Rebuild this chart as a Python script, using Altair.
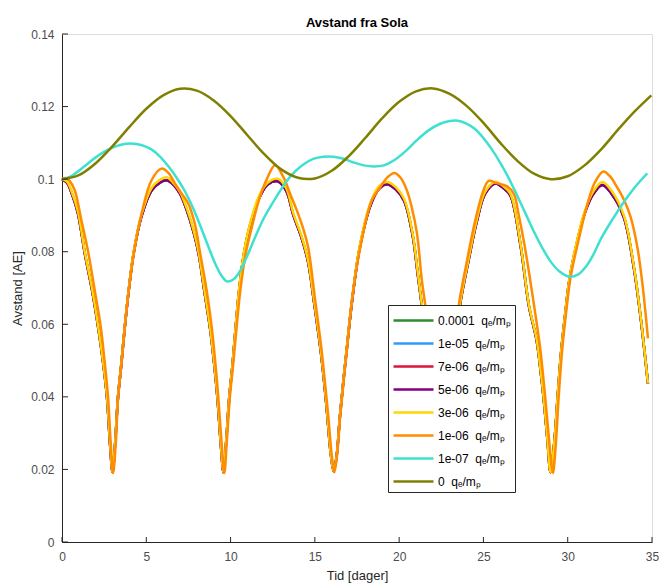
import altair as alt
import pandas as pd

# ---------------- data ----------------
charges = ["0.0001", "1e-05", "7e-06", "5e-06", "3e-06", "1e-06", "1e-07", "0"]
colors = ["#2E8B2E", "#3399FF", "#DC143C", "#800080", "#FFD700", "#FF8C00", "#40E0D0", "#808000"]

# q/m = 0 (olive)
t_olive = [0, 1, 2, 3, 4, 5, 6, 7, 8, 9, 10, 11, 12, 13, 14, 15, 16, 17, 18, 19, 20, 21, 22,
           23, 24, 25, 26, 27, 28, 29, 30, 31, 32, 33, 34, 34.96]
v_olive = [0.1000, 0.1011, 0.1044, 0.1091, 0.1144, 0.1194, 0.1231, 0.1249, 0.1244, 0.1217,
           0.1174, 0.1121, 0.1069, 0.1027, 0.1004, 0.1002, 0.1023, 0.1063, 0.1114, 0.1168,
           0.1213, 0.1242, 0.1250, 0.1235, 0.1202, 0.1155, 0.1100, 0.1051, 0.1015, 0.1000,
           0.1008, 0.1038, 0.1083, 0.1137, 0.1188, 0.1231]

# q/m = 1e-07 (turquoise)
t_cyan = [0.0, 0.5, 1.0, 1.5, 2.0, 2.5, 3.0, 3.5, 4.1, 4.7, 5.3, 5.8, 6.3, 6.8, 7.3, 7.8, 8.3,
          8.7, 9.1, 9.45, 9.8, 10.2, 10.6, 11.0, 11.5, 12.0, 12.7, 13.3, 13.8, 14.4, 14.9, 15.5,
          16.1, 16.7, 17.3, 17.9, 18.5, 19.1, 19.7, 20.4, 21.0, 21.7, 22.4, 23.0, 23.5, 24.0,
          24.5, 25.0, 25.5, 26.0, 26.5, 27.0, 27.5, 28.0, 28.5, 29.0, 29.5, 30.1, 30.6, 31.1,
          31.5, 32.0, 32.6, 33.3, 33.9, 34.3, 34.72]
v_cyan = [0.1000, 0.1007, 0.1023, 0.1042, 0.1060, 0.1075, 0.1087, 0.1095, 0.1098, 0.1094,
          0.1082, 0.1063, 0.1036, 0.1004, 0.0966, 0.0918, 0.0860, 0.0812, 0.0766, 0.0735,
          0.0718, 0.0725, 0.0750, 0.0790, 0.0845, 0.0895, 0.0950, 0.0993, 0.1020, 0.1043,
          0.1056, 0.1062, 0.1062, 0.1056, 0.1046, 0.1038, 0.1035, 0.1038, 0.1052, 0.1078,
          0.1105, 0.1133, 0.1152, 0.1160, 0.1161, 0.1153, 0.1138, 0.1113, 0.1082, 0.1045,
          0.1003, 0.0955, 0.0905, 0.0855, 0.0810, 0.0772, 0.0746, 0.0731, 0.0737, 0.0760,
          0.0790, 0.0838, 0.0885, 0.0935, 0.0973, 0.0995, 0.1016]

# q/m = 1e-06 (orange)
t_orange = [0.0, 0.2, 0.45, 0.75, 1.15, 1.55, 1.94, 2.3, 2.54, 2.73, 2.89, 3.03, 3.19, 3.33,
            3.53, 3.73, 3.96, 4.28, 4.72, 5.31, 5.9, 6.3, 6.7, 7.1, 7.49, 7.88, 8.18, 8.58,
            8.88, 9.1, 9.27, 9.47, 9.63, 9.77, 9.96, 10.16, 10.36, 10.58, 10.9, 11.3, 11.7,
            12.15, 12.64, 13.13, 13.53, 13.93, 14.3, 14.6, 15.02, 15.4, 15.62, 15.8, 16.0,
            16.16, 16.32, 16.5, 16.7, 16.9, 17.2, 17.7, 18.38, 18.88, 19.3, 19.73, 20.1,
            20.46, 20.76, 21.06, 21.35, 21.55, 21.85, 22.1, 22.35, 22.6, 22.85, 23.1, 23.3,
            23.54, 24.03, 24.52, 25.0, 25.31, 25.8, 26.4, 26.8, 27.1, 27.45, 28.0, 28.38,
            28.6, 28.8, 28.98, 29.12, 29.28, 29.45, 29.67, 29.9, 30.17, 30.56, 31.16, 31.6,
            32.11, 32.5, 32.9, 33.35, 33.73, 34.13, 34.43, 34.76]
v_orange = [0.1000, 0.1003, 0.0995, 0.0970, 0.0887, 0.0800, 0.0694, 0.0593, 0.0492, 0.0400,
            0.0272, 0.0190, 0.0272, 0.0400, 0.0492, 0.0593, 0.0694, 0.0800, 0.0905, 0.0997,
            0.1029, 0.1018, 0.0988, 0.0960, 0.0933, 0.0877, 0.0800, 0.0694, 0.0593, 0.0492,
            0.0400, 0.0272, 0.0190, 0.0272, 0.0400, 0.0492, 0.0593, 0.0694, 0.0795, 0.0875,
            0.0945, 0.1000, 0.1038, 0.1006, 0.0960, 0.0914, 0.0865, 0.0813, 0.0666, 0.0529,
            0.0430, 0.0345, 0.0240, 0.0192, 0.0240, 0.0345, 0.0440, 0.0529, 0.0666, 0.0813,
            0.0942, 0.0978, 0.1005, 0.1017, 0.1003, 0.0969, 0.0920, 0.0850, 0.0720, 0.0653,
            0.0530, 0.0420, 0.0300, 0.0192, 0.0300, 0.0420, 0.0540, 0.0653, 0.0776, 0.0887,
            0.0969, 0.0995, 0.0989, 0.0980, 0.0960, 0.0900, 0.0815, 0.0653, 0.0529, 0.0430,
            0.0330, 0.0240, 0.0190, 0.0260, 0.0390, 0.0529, 0.0630, 0.0730, 0.0815, 0.0930,
            0.0990, 0.1021, 0.1008, 0.0980, 0.0942, 0.0896, 0.0813, 0.0712, 0.0561]

# shared time grid of the nearly coincident series (3e-06 ... 0.0001)
t_fam = [0.0, 0.3, 0.6, 0.95, 1.35, 1.8, 2.15, 2.45, 2.67, 2.85, 3.0, 3.15, 3.32, 3.52, 3.72,
         3.95, 4.25, 4.7, 5.3, 5.8, 6.2, 6.6, 7.0, 7.4, 7.8, 8.1, 8.45, 8.78, 9.03, 9.22, 9.42,
         9.58, 9.73, 9.92, 10.12, 10.3, 10.5, 10.8, 11.2, 11.7, 12.2, 12.8, 13.3, 13.73, 14.2,
         14.6, 14.95, 15.35, 15.58, 15.75, 15.95, 16.12, 16.3, 16.48, 16.68, 16.88, 17.2,
         17.65, 18.3, 18.8, 19.27, 19.8, 20.3, 20.8, 21.1, 21.35, 21.7, 22.0, 22.3, 22.55,
         22.8, 23.1, 23.4, 23.6, 24.1, 24.6, 25.1, 25.7, 26.2, 26.6, 27.2, 27.7, 28.15, 28.4,
         28.6, 28.8, 28.98, 29.2, 29.4, 29.6, 29.85, 30.1, 30.5, 31.0, 31.5, 32.05, 32.6,
         33.33, 33.93, 34.33, 34.76]
# q/m = 3e-06 (gold)
v_yellow = [0.1000, 0.0993, 0.0962, 0.0910, 0.0800, 0.0694, 0.0593, 0.0492, 0.0400, 0.0272,
            0.0192, 0.0272, 0.0400, 0.0492, 0.0593, 0.0694, 0.0800, 0.0900, 0.0975, 0.0998,
            0.1005, 0.0990, 0.0965, 0.0920, 0.0860, 0.0800, 0.0694, 0.0593, 0.0492, 0.0400,
            0.0272, 0.0192, 0.0272, 0.0400, 0.0492, 0.0593, 0.0694, 0.0800, 0.0885, 0.0955,
            0.0990, 0.1001, 0.0975, 0.0905, 0.0845, 0.0776, 0.0666, 0.0529, 0.0430, 0.0345,
            0.0240, 0.0194, 0.0240, 0.0345, 0.0440, 0.0529, 0.0666, 0.0813, 0.0935, 0.0980,
            0.0992, 0.0978, 0.0945, 0.0850, 0.0745, 0.0653, 0.0520, 0.0400, 0.0270, 0.0192,
            0.0270, 0.0400, 0.0550, 0.0653, 0.0776, 0.0887, 0.0965, 0.0992, 0.0980, 0.0960,
            0.0822, 0.0653, 0.0560, 0.0470, 0.0385, 0.0280, 0.0192, 0.0272, 0.0400, 0.0520,
            0.0630, 0.0725, 0.0820, 0.0910, 0.0965, 0.0992, 0.0968, 0.0900, 0.0758, 0.0620,
            0.0437]
# q/m = 5e-06 (purple)
v_purple = [0.1000, 0.0990, 0.0958, 0.0905, 0.0796, 0.0690, 0.0590, 0.0490, 0.0398, 0.0270,
            0.0192, 0.0270, 0.0398, 0.0490, 0.0590, 0.0690, 0.0796, 0.0895, 0.0968, 0.0990,
            0.0997, 0.0985, 0.0960, 0.0915, 0.0855, 0.0796, 0.0690, 0.0590, 0.0490, 0.0398,
            0.0270, 0.0192, 0.0270, 0.0398, 0.0490, 0.0590, 0.0690, 0.0796, 0.0880, 0.0948,
            0.0985, 0.0994, 0.0968, 0.0900, 0.0840, 0.0772, 0.0662, 0.0526, 0.0428, 0.0343,
            0.0240, 0.0194, 0.0240, 0.0343, 0.0438, 0.0526, 0.0662, 0.0808, 0.0928, 0.0973,
            0.0986, 0.0972, 0.0940, 0.0845, 0.0740, 0.0650, 0.0518, 0.0398, 0.0270, 0.0192,
            0.0270, 0.0398, 0.0548, 0.0650, 0.0772, 0.0882, 0.0960, 0.0988, 0.0975, 0.0955,
            0.0818, 0.0650, 0.0557, 0.0468, 0.0383, 0.0280, 0.0192, 0.0272, 0.0398, 0.0518,
            0.0627, 0.0722, 0.0815, 0.0905, 0.0958, 0.0984, 0.0960, 0.0895, 0.0754, 0.0617,
            0.0437]
# q/m = 7e-06, 1e-05, 1e-04: drawn underneath, indistinguishable from 5e-06
v_red = list(v_purple)
v_blue = list(v_purple)
v_green = list(v_purple)

x_ticks = [0, 5, 10, 15, 20, 25, 30, 35]
y_ticks = [0, 0.02, 0.04, 0.06, 0.08, 0.1, 0.12, 0.14]

# ---------------- build table ----------------
series_t = [t_fam, t_fam, t_fam, t_fam, t_fam, t_orange, t_cyan, t_olive]
series_v = [v_green, v_blue, v_red, v_purple, v_yellow, v_orange, v_cyan, v_olive]
labels = [c + "\u00a0\u00a0q\u2091/m\u209a" for c in charges]

rows = []
for k, (ts, vs) in enumerate(zip(series_t, series_v)):
    for i, (t, v) in enumerate(zip(ts, vs)):
        rows.append({"k": k, "series": labels[k], "i": i, "t": t, "v": v})
df = pd.DataFrame(rows)

W, H = 590, 508
FONT = "Liberation Sans"
AX = "#262626"
LAB = "#4D4D4D"

x_scale = alt.Scale(domain=[0, 35], nice=False, zero=False)
y_scale = alt.Scale(domain=[0, 0.14], nice=False)
x_axis = alt.Axis(values=x_ticks, title="Tid [dager]", ticks=False, tickSize=0,
                  labelPadding=9, titlePadding=7, grid=False, labelFlush=False,
                  labelFont=FONT, labelFontSize=12, labelColor=LAB,
                  titleFont=FONT, titleFontSize=13, titleFontWeight="normal", titleColor=AX,
                  domainColor=AX, domainWidth=1)
y_axis = alt.Axis(values=y_ticks, title="Avstand [AE]", ticks=False, tickSize=0,
                  labelPadding=8, titlePadding=6, grid=False, format="~g",
                  labelFont=FONT, labelFontSize=12, labelColor=LAB,
                  titleFont=FONT, titleFontSize=13, titleFontWeight="normal", titleColor=AX,
                  domainColor=AX, domainWidth=1)
X = alt.X("t:Q", scale=x_scale, axis=x_axis)
Y = alt.Y("v:Q", scale=y_scale, axis=y_axis)
color = alt.Color(
    "series:N",
    scale=alt.Scale(domain=labels, range=colors),
    legend=alt.Legend(
        title=None, orient="none", legendX=326, legendY=271,
        symbolType="M-1,0H3", symbolSize=400, symbolStrokeWidth=2.5,
        symbolFillColor="transparent",
        labelFontSize=12, labelFont=FONT, labelColor="#000000",
        fillColor="#FFFFFF", strokeColor=AX, padding=4,
        rowPadding=5, labelOffset=23, labelLimit=200,
    ),
)

layers = []
for k in range(len(labels)):
    layers.append(
        alt.Chart(df)
        .transform_filter(alt.datum.k == k)
        .mark_line(strokeWidth=2.5, interpolate="catmull-rom")
        .encode(x=X, y=Y, color=color, order="i:Q")
    )

xt = pd.DataFrame({"t": x_ticks})
yt = pd.DataFrame({"v": y_ticks})
xtick_layer = alt.Chart(xt).mark_rule(color=AX, strokeWidth=1).encode(
    x=X, y=alt.value(H), y2=alt.value(H - 5))
ytick_layer = alt.Chart(yt).mark_rule(color=AX, strokeWidth=1).encode(
    y=Y, x=alt.value(0), x2=alt.value(6))

chart = (
    alt.layer(*layers, xtick_layer, ytick_layer)
    .properties(
        width=W, height=H,
        title=alt.TitleParams("Avstand fra Sola", fontSize=13, fontWeight="bold",
                              font=FONT, color="#000000", offset=8, dy=20,
                              baseline="alphabetic"),
        autosize=alt.AutoSizeParams(type="none"),
        padding={"left": 62, "top": 34, "right": 7, "bottom": 46},
    )
    .configure_view(stroke=None)
    .configure(background="#FFFFFF")
)

chart.save("out.html", embed_options={"renderer": "svg", "actions": False})
